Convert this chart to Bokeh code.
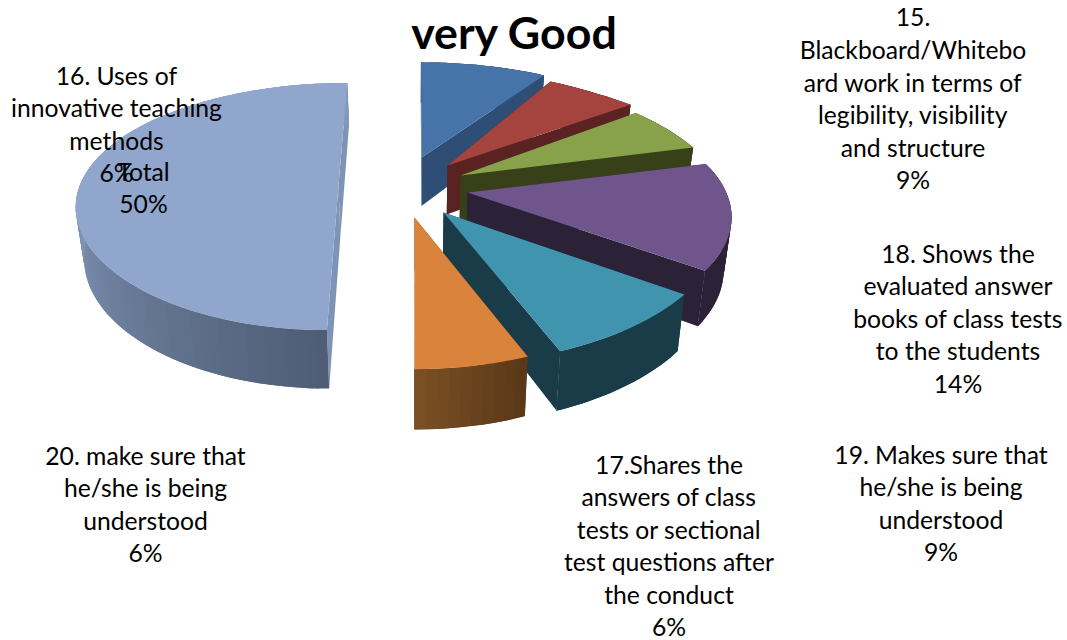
import math
from bokeh.plotting import figure
from bokeh.models import Range1d
from bokeh.core.properties import value
from bokeh.embed import file_html
from bokeh.resources import INLINE

# ---- data
values = [9, 6, 6, 14, 9, 6, 50]
title = "very Good"
label_lines = [
    ["15.", "Blackboard/Whitebo", "ard work in terms of", "legibility, visibility", "and structure"],
    ["16. Uses of", "innovative teaching", "methods"],
    ["17.Shares the", "answers of class", "tests or sectional", "test questions after", "the conduct"],
    ["18. Shows the", "evaluated answer", "books of class tests", "to the students"],
    ["19. Makes sure that", "he/she is being", "understood"],
    ["20. make sure that", "he/she is being", "understood"],
    ["Total"],
]

# ---- styling
top_colors = ["#4674a8", "#a5433f", "#87a24a", "#70558c", "#4194ae", "#d9833c", "#90a6cd"]
cut_colors = ["#2e4e75", "#5a2220", "#38401a", "#2c2238", "#1a3c48", "#6b4520", "#7f93b5"]
wall_a = ["#2e4e75", "#5a2220", "#38401a", "#2c2238", "#1a3c48", "#5a3818", "#4f5d75"]
wall_b = ["#2e4e75", "#5a2220", "#38401a", "#2c2238", "#1a3c48", "#7a4f24", "#8298bb"]
offset_u = [0.024, 0.125, 0.174, 0.197, 0.104, -0.004, -0.294]
offset_v = [-0.243, -0.172, -0.085, 0.058, 0.217, 0.255, 0.0]
scale_u_start = [1, 0.855, 0.915, 0.968, 1.01, 1, 1]
scale_u_end = [1, 0.96, 0.962, 1.01, 1, 1, 0.975]
scale_v = [1, 1, 1, 0.98, 0.97, 0.96, 1]
label_anchor = [(912.5, 16.5), (116, 74.5), (668.5, 463.5), (957.5, 252.5), (940.5, 453.5), (145, 454.5), (143, 170.5)]
title_pos = (514, 31)
LINE = 32.5

CX, CY, R, A, P, Q = 415, 185, 262, 120, 0.17, 0.13


def project(U, V):
    return CX + R * U / (1 - Q * V), CY + A * V / (1 - P * V)


def top(q):
    return project(*q)


def bot(q):
    x, y = project(*q)
    return CX + (x - CX) * 0.975, y + 50.5 + 8 * q[1]


def mix(a, b, t):
    ca = [int(a[i:i + 2], 16) for i in (1, 3, 5)]
    cb = [int(b[i:i + 2], 16) for i in (1, 3, 5)]
    return "#%02x%02x%02x" % tuple(round(x + (y - x) * t) for x, y in zip(ca, cb))


total = sum(values)
xs, ys, cols = [], [], []


def add(poly, color):
    xs.append([q[0] for q in poly])
    ys.append([q[1] for q in poly])
    cols.append(color)


start = 0.0
for i, val in enumerate(values):
    a0, a1 = start, start + 360 * val / total
    start = a1
    eu, ev = offset_u[i], offset_v[i]
    n = max(8, int((a1 - a0) / 2))
    pts = []
    for k in range(n + 1):
        f = k / n
        th = math.radians(a0 + (a1 - a0) * f)
        su = scale_u_start[i] + (scale_u_end[i] - scale_u_start[i]) * f
        pts.append((eu + su * math.sin(th), ev - scale_v[i] * math.cos(th)))
    tip = (eu, ev)

    # flat cut faces
    for edge in (pts[0], pts[-1]):
        add([top(tip), top(edge), bot(edge), bot(tip)], cut_colors[i])
    # curved wall (each strip overlaps the next one so that no seams appear)
    for k in range(n):
        t = k / max(n - 1, 1)
        band = pts[k:k + 3]
        add([top(q) for q in band] + [bot(q) for q in reversed(band)],
            mix(wall_a[i], wall_b[i], min(1, t * 2) if val == max(values) else t))
    # top
    add([top(tip)] + [top(q) for q in pts], top_colors[i])

p = figure(width=1067, height=640, x_range=Range1d(0, 1067), y_range=Range1d(640, 0),
           output_backend="svg", toolbar_location=None, min_border=0, outline_line_color=None)
p.axis.visible = False
p.grid.visible = False
p.patches(xs, ys, fill_color=cols, line_color=None)

tx, ty, tt = [], [], []
for lines, (ax, ay), v in zip(label_lines, label_anchor, values):
    for j, s in enumerate(lines + [f"{v}%"]):
        tx.append(ax)
        ty.append(ay + j * LINE)
        tt.append(s)
p.text(tx, ty, text=tt, text_font=value("Lato"), text_font_size="24.7px", text_color="#000000",
       text_align="center", text_baseline="middle")
p.text([title_pos[0]], [title_pos[1]], text=[title], text_font=value("Lato"), text_font_size="44.7px",
       text_font_style="bold", text_color="#000000", text_align="center", text_baseline="middle")

open("out.html", "w").write(file_html(p, INLINE))
